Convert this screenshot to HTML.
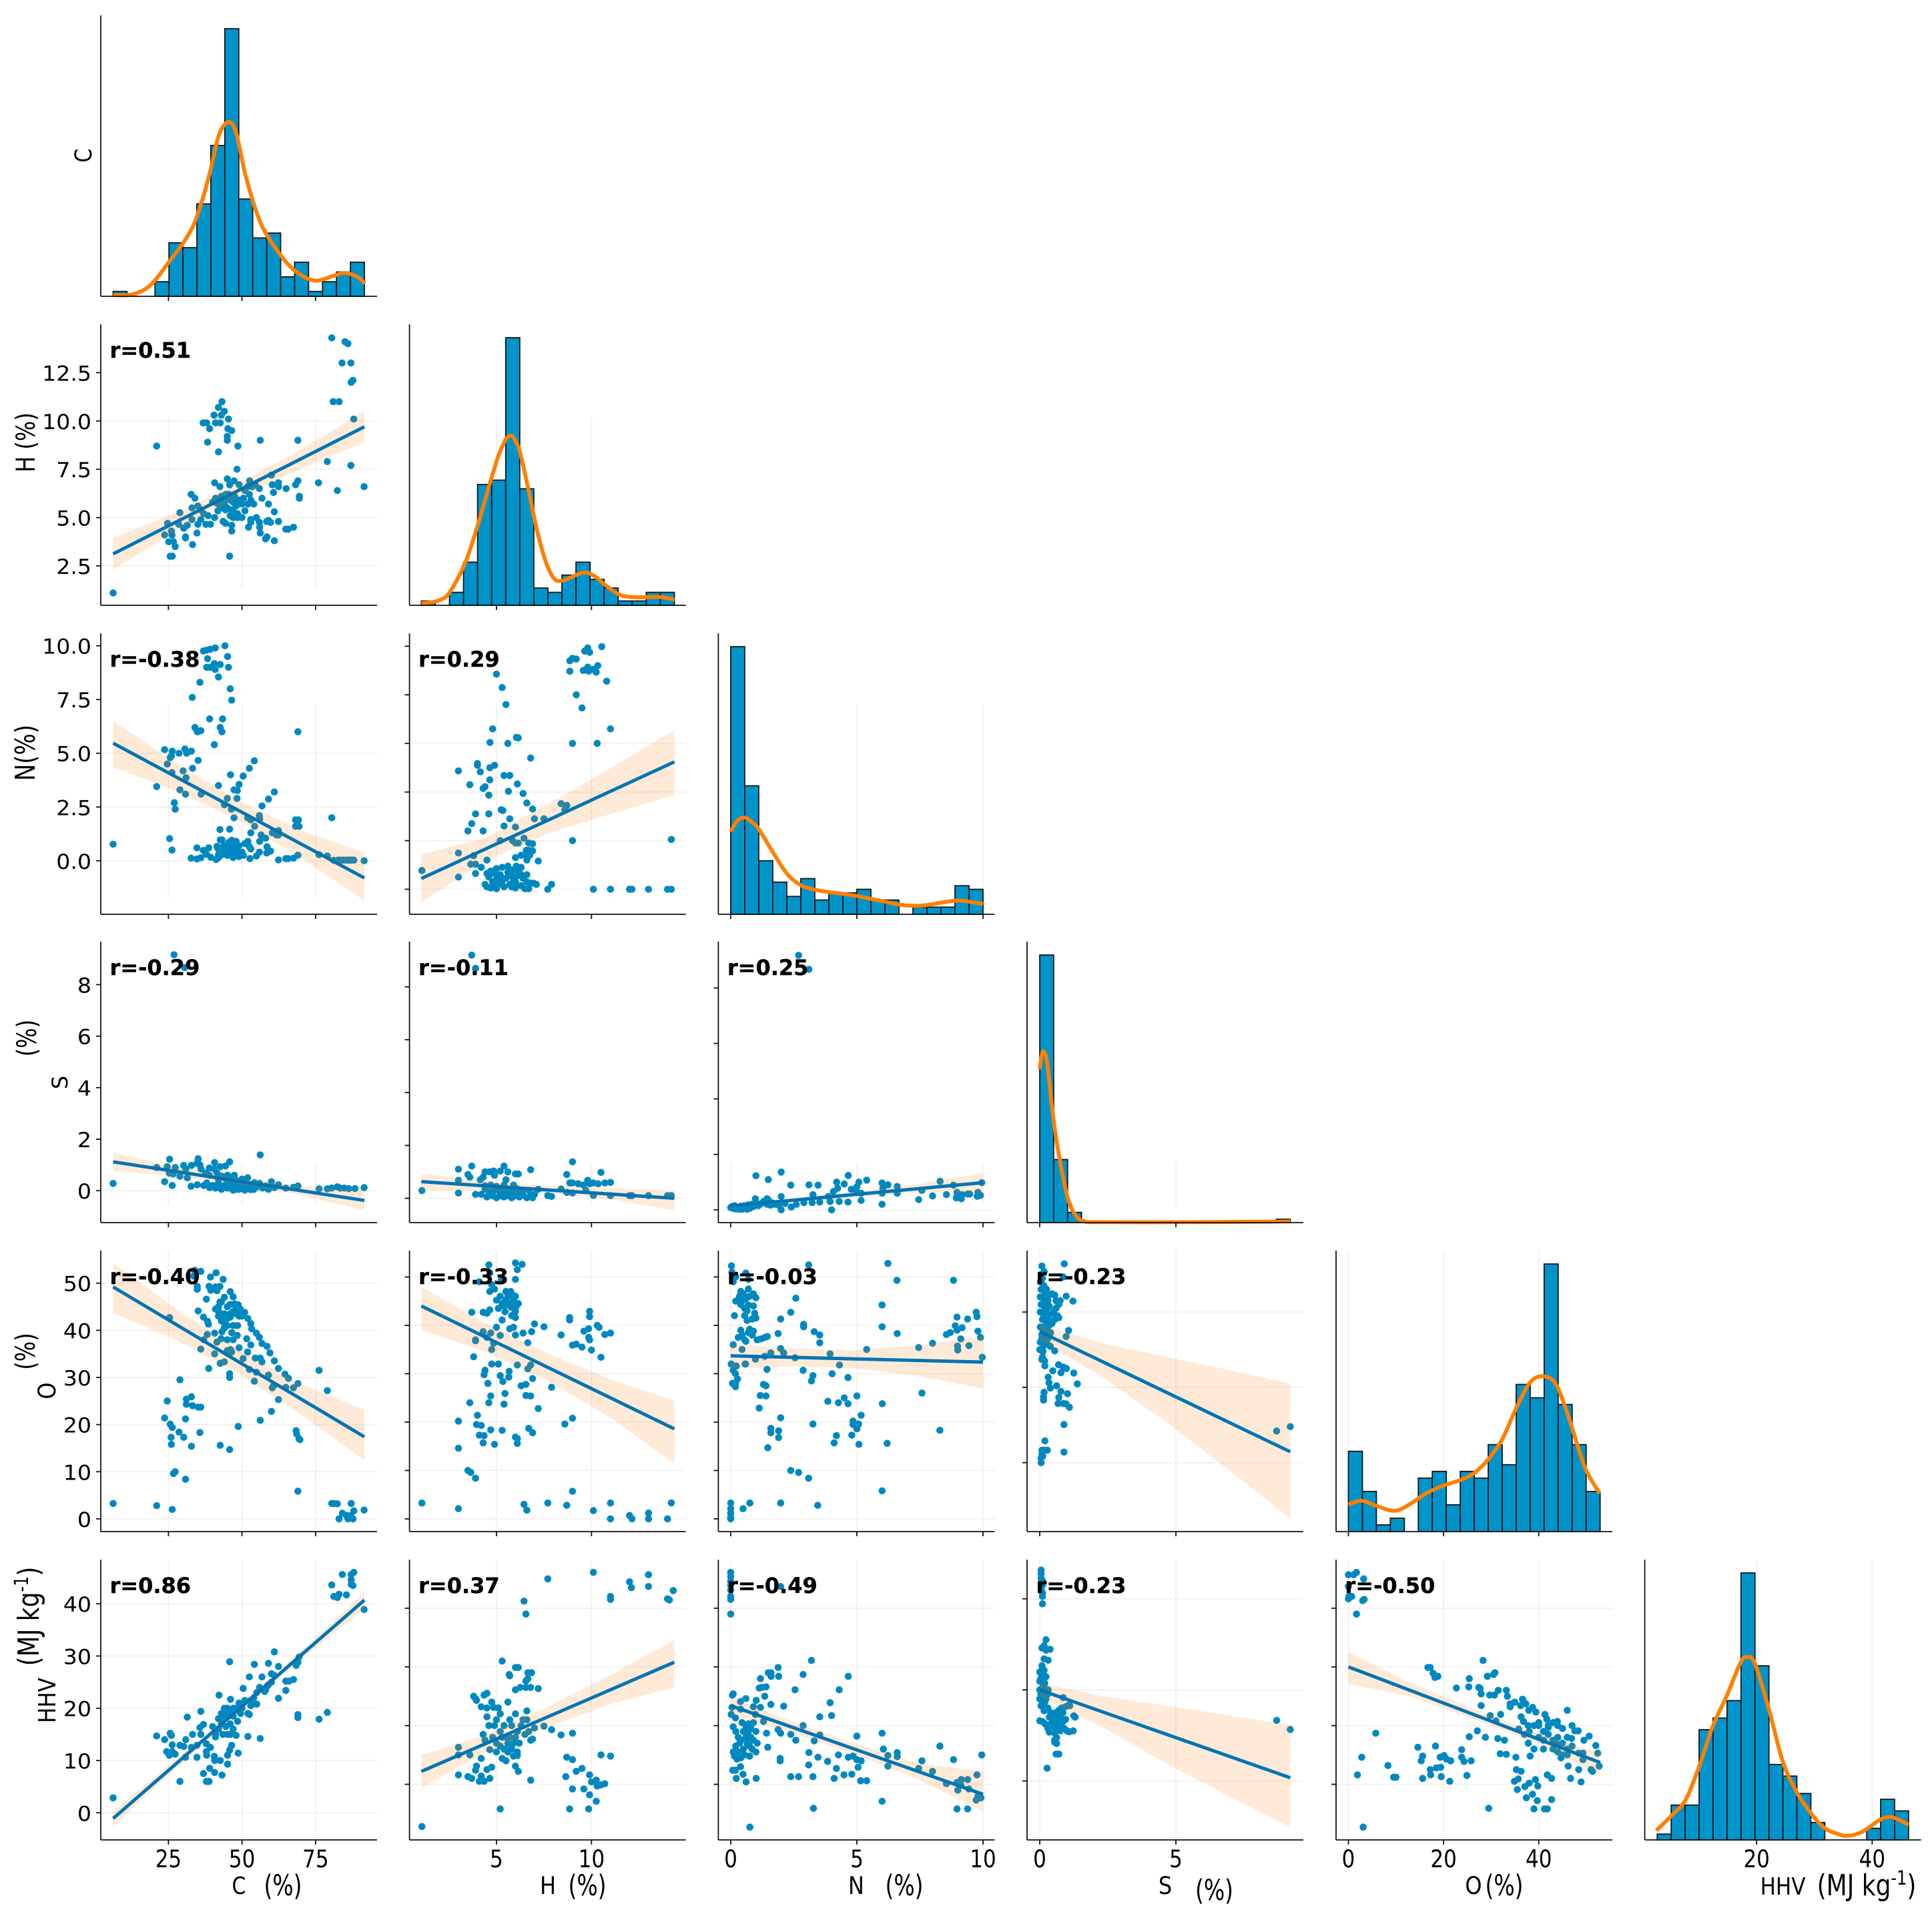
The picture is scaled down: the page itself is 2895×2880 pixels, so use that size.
<!DOCTYPE html>
<html><head><meta charset="utf-8"><title>Pair plot</title>
<style>html,body{margin:0;padding:0;background:#fff}svg{display:block}text{font-family:"DejaVu Sans","Liberation Sans",sans-serif;fill:#000}</style>
</head><body>
<svg id="chart" xmlns="http://www.w3.org/2000/svg" width="2895" height="2880" viewBox="0 0 2895 2880"></svg>
<script>
// Histogram counts (18 bins each), data range, KDE curves (count units)
const countsC=[1,0,0,3,11,10,19,31,55,20,12,13,4,7,1,3,5,7];
const countsH=[1,0,3,10,28,29,62,27,4,3,7,10,6,4,1,1,3,3];
const countsN=[75,36,15,9,5,10,4,6,6,7,4,4,0,2,2,2,8,7];
const countsS=[157,37,6,0,0,0,0,0,0,0,0,0,0,0,0,0,0,2];
const countsO=[12,6,1,2,0,8,9,4,9,8,13,10,22,20,40,19,13,6];
const countsHHV=[1,6,6,19,21,24,46,30,13,11,8,3,0,0,0,2,7,5];
const rangeC=[6.2,91.6],rangeH=[1.05,14.36],rangeN=[0,10],rangeS=[0,9.2],rangeO=[0,52.9],rangeHHV=[2.8,46.3];
const kdeXC=[6.2,11.5,16,19.9,25.1,29.6,33.5,36.5,39.2,42.2,45.4,48,51.4,56.2,61,65.8,70.5,75.3,80.1,84.8,89.2,91.8];
const kdeYC=[.25,.27,1.1,2.9,7,10.6,14.6,19.8,25.7,33.2,35.8,33.6,24.4,15.25,10.25,6.5,4.2,3.2,4,4.8,4,2.6];
const kdeXH=[1.05,1.36,1.95,2.52,3.36,4.06,4.77,5.22,5.71,6.17,6.63,7.09,7.57,8.03,8.46,8.98,9.62,10.14,10.67,11.41,12.15,13.63,14.36];
const kdeYH=[.5,.6,1.1,2.9,9.9,19.2,30,36,39.3,36.4,27.9,18.2,10.4,6.2,5.7,6.6,7.6,6.8,4.9,2.6,1.9,1.9,1.3];
const kdeXN=[0,.27,.57,.86,1.11,1.67,2.23,2.79,3.34,3.9,4.46,5.02,5.57,6.13,6.69,7.25,7.8,8.36,8.92,9.3,10];
const kdeYN=[23.2,26.3,27.1,25.7,23.9,17.4,11.4,8.1,6.9,6.2,5.7,5.1,4.3,3.5,2.7,2.4,2.6,3.3,3.8,3.7,2.9];
const kdeXS=[0,.08,.16,.28,.47,.7,1.02,1.33,1.64,2.1,5.08,8.2,9.2];
const kdeYS=[90,99,100,93,65,40,15,4,.75,.25,.25,.5,.75];
const kdeXO=[0,2.8,5.7,9.7,12.9,16.3,19.7,23.9,26.5,29.4,32.4,35.3,38.3,41.2,43.8,46.7,49.7,52.8];
const kdeYO=[4.07,4.6,3.9,3.1,4.1,5.7,6.8,7.8,8.8,10.8,13.9,18.5,22.4,23.2,21.8,16.2,9.6,5.7];
const kdeXHHV=[2.64,5.28,7.64,10,12.43,14.86,17.2,18.3,19.65,22.1,24.5,26.9,29.4,31.8,34.2,35.8,38.3,41.4,43.5,46.3];
const kdeYHHV=[1.6,4.2,6.8,12.5,19.6,24.9,30.5,31.5,30.5,22.6,13.6,8.3,4.6,2,1,.7,1.4,3.5,3.9,2.6];

// Scatter values as flat x,y,x,y lists
const ptsCH=[6.2,1.1,21,8.7,80.5,14.3,85,14.1,86,14,84,13,87,13,87.1,12,87.7,12.1,81,11,83,11,88,10.1,69,9,56.2,9,79,7.9,87,7.7,76,6.8,82.4,6.4,91.5,6.6,43.2,11,42,10.7,44,10.5,40.5,10.3,43,10.3,45.4,10.1,36.8,9.9,38,9.9,39,9.6,41,9.9,42.6,9.9,45.2,9.6,46.5,9.5,45,9.2,45,9,38.3,8.9,42,8.4,48.6,8.7,48.3,7.5,60,7.2,45,7,47.3,6.9,40.7,6.8,42.5,6.6,45.8,6.7,49,6.7,52.6,6.9,54.5,6.7,60.3,6.7,62.4,6.8,62.4,6.6,65,6.5,68.2,6.7,69,6.9,60.7,6.3,55.9,6.5,69.5,6.1,69.5,6,56.8,6,59,5.7,61,5.3,54.9,5,59,4.85,62.4,4.8,58.4,4.8,59.7,4.75,53,4.9,53,4.75,55.9,4.75,56,4.5,52.2,4.5,56.2,4.2,58.5,4,58,3.9,61,3.8,64.9,4.4,65.7,4.4,67.5,4.5,45.8,3,32.7,6.2,34,6,28.9,5.25,33,5.5,35,5.6,24.7,4.7,23.7,4.1,26,4.3,26.2,4.1,25.1,3.75,26.7,3.75,27.3,3.5,25.6,3,26.3,3,30.8,4,30.8,3.95,33.2,3.6,34.7,4.2,30.2,4.45,31.4,4.6,28.5,4.65,33,4.9,35,4.65,36,4.9,37,5.2,36,5.4,38.5,5.1,40.7,5,37.7,4.65,39.3,4.65,43.6,4.8,44.4,4.7,46.5,4.6,46.5,4.3,41.8,5.35,44.4,5.4,42,5.9,43,6.1,44,5.7,45,5.5,45.5,6.2,46,5.9,46.5,5.4,47,5.8,47.5,6.1,48,5.6,48.5,5.2,49,5.9,50,5.7,50.5,6,51,6.4,52,5.7,52.5,6.2,53,5.9,54,5.7,44,5.9,44.5,6.2,46,5.1,47,5,48.5,5,50,5,47,5.3,51,5.35,40,5.8,41,6,41.5,5.75,42.5,5.6,43.5,5.5,52,6.6,53.5,6.6];
const ptsCN=[6.2,.77,21,3.45,23.7,5.17,24.6,4.5,25.6,4.8,26,4.87,26.3,5.1,26.2,4.1,27,2.7,27.3,2.4,25.4,1.03,26.2,.5,28.6,5,30.6,5.2,31.2,5,32.8,5.1,30,4.18,28.9,3.3,30.8,3.1,31,3.86,33.2,4.3,35.1,4.67,36.1,3.1,32.7,.12,34.7,.08,36,.14,34.7,.6,36.9,.48,38.7,.6,37.9,.3,39.4,.16,41.2,.06,42,.14,42,.28,43.2,.28,43.6,.38,41.5,.67,41.8,.57,42.6,.97,43.2,.97,42.5,1.45,45.8,1.47,42,3.5,40.6,5.4,43.2,6,42.6,6.2,39,6.6,43.4,6.6,34,6.2,34.8,6,36,6.05,33.1,7.6,35.7,8.3,46.5,7.47,46,8,42,8.55,38,9,39.2,9,40.9,8.9,40.6,9.17,42.6,9.13,45.4,9,38.3,9.4,45.1,9.5,36.9,9.76,38,9.8,39.2,9.84,40.9,9.9,44.2,10,46.1,4,50.4,3.94,52.5,4.3,54.2,4.65,49,3.55,47.3,3.3,48.4,3.27,45,2.9,48.3,2.9,44,2.6,46.4,2.4,47.3,2,51.9,2,53,1.9,55.9,2.1,56,1.96,56.8,2.55,59,2.87,61,3.2,54.3,1.6,53,1.3,56.5,1.2,58,1.05,60.3,1.3,62.4,1.4,61.7,1.2,62.4,1.2,56,.9,58.5,.65,58.4,.36,59.7,.45,55.9,.4,54.9,.22,52.7,.1,62.4,.04,64.9,.1,65.7,.1,67.5,.12,69,.26,68.2,1.6,69.2,1.9,68.2,1.9,69.4,1.6,69,6,76.2,.28,79,.22,80.5,2,81.2,.02,82.7,.03,83.5,.03,84.5,.03,85.5,.03,86,.03,86.5,.03,87,.03,87.5,.03,88,.03,91.5,0,44,.7,45,.5,45.5,.85,46,.6,46.5,.95,47,.45,47.5,.75,48,.9,48,.55,48.5,.35,49,.7,49,.2,47,.15,47.3,.3,45,.25,50,.4,50.5,.25,51,.8,52,.9,52.5,.65,53,.55,44,.5,43.5,.65,46,.35];
const ptsCS=[6.2,.28,23.7,.35,26.3,.2,21,.9,24.6,.93,25.4,1.22,25.3,.68,26.6,.65,27.3,.9,28.9,.56,30.2,.98,31.4,.5,30.9,.84,32.8,.98,35.1,1.24,35.7,1,36.1,.84,34.7,1.06,32.7,.17,34.8,.23,40.7,1.09,40.6,.84,42.6,.93,44.4,.96,45.8,1.12,56.2,1.39,38.9,.88,37.6,.68,38.9,.6,41.5,.68,43.2,.56,45.1,.6,47.4,.6,51.9,.5,26.9,9.16,30.5,8.66,48.7,.35,54.2,.31,60,.35,62.4,.23,69,.18,64.9,.1,67.5,.13,76.2,.07,79,.07,80.5,.1,82.4,.15,83.4,.1,84.8,.1,86.3,.08,88.4,.08,91.5,.12,40,.2,41,.1,42,.3,43,.05,44,.2,45,.35,46,.1,47,.25,48,.05,49,.2,50,.1,51,.3,52,.12,53,.2,54,.05,55,.15,56,.28,57,.1,58,.18,59,.05,60,.15,61,.12,39,.12,37,.2,38,.3,42,.45,44,.5,46,.42,48,.4,50,.45,43,.15,45,.1,47,.02,49,.05,51,.02,53,.04];
const ptsCO=[6.2,3.26,21,2.8,26.3,2,69,5.87,80.5,3.26,81.2,3.26,82.4,3.2,87.1,3.26,84.1,1.2,83,0,85.5,.74,86,0,87,.7,87.7,0,88,1.7,91.5,1.86,26.7,9.6,27.3,10,30.8,8.4,26,15.8,32.8,15.4,42.6,15.6,45.8,14.7,25.9,17.3,30.2,17.3,28.6,18.4,35.7,18.3,25.6,20.1,26.3,19.4,23.7,21.4,30.8,21.2,24.6,25,31.1,25.4,32.8,25.9,31.1,24.3,33.2,24,35.1,23.7,36,23.7,28.9,29.5,48.7,19.6,56.2,20.9,60,22.8,62.4,25.3,68.4,18.7,68.6,18,69.4,17,69.7,16.8,69,28.7,76.2,31.5,79,27.2,67.5,27.8,64.9,27.9,65.8,29.8,64.6,30.7,62.4,31.9,61,33.5,59,30.5,60.3,27.8,60.7,28.2,54.9,31.1,54.2,29.2,52.5,31.7,50.4,34,45.8,30,45.8,30.8,44,33.3,42.6,33,38.7,31.9,40.7,35,36,36,37,38,38.2,39.1,25.4,42.7,35.1,44.1,36.9,42.8,38.3,41.9,38.6,41.3,37.9,46.6,34.8,48.7,34.8,49.3,34,52.7,36,52.5,33.5,51.5,39.3,51.3,41.2,52.2,43.6,50.8,38.8,49.3,39.4,48.5,41,49.2,42.5,49.3,41.5,48.4,46,48.2,47,47.1,47.5,45.6,48.7,45.4,49.4,44.5,50.9,43.8,52,42.5,53,41.4,53.3,40.3,54.9,39.4,55.9,38.5,56.8,37.2,58.5,36.6,59.5,35.2,53,36.9,51.6,38.2,51.9,35.4,54.5,34.1,56.2,34.1,56.8,33.3,48.4,38.9,49,36.3,47,38,45,38,42.9,38.2,40.7,39.4,43.2,39.7,41.5,37.5,46.1,35.9,46.5,35.4,45,35.7,42,45,42,44,43,46,44,47,45,45,46,45.5,47,44,48,43.5,49,43,43,43,44,43.5,45,42.5,46,42.8,47,41,45,41,43,42,44,41.5,42,43,41,44.5,42.5,46,49,44,50,43,46,43.5,48,45,44,40.5,46.5,39.5,48.5,41];
const ptsCHHV=[6.2,2.85,21,14.7,23.7,14,25.6,15.2,26,14.8,24.4,11.7,25.3,11,26.3,11.7,26.3,13,27.3,11.2,28.9,12.9,30.2,12.7,28.9,6,31.4,18.3,30.9,14,30.8,10.6,32.8,12.5,33.2,15,34.7,12.9,34.7,10.6,36,19.4,35.7,16.3,36,15,36.9,16.9,37.9,13.2,37.9,11.7,38,11,36.9,7.5,39,8.5,37.9,6,38.8,6,40.7,7.7,43.2,7.2,39.3,12.5,40.6,10.8,40.7,10,42.6,10,45.1,9.3,45.1,11,45.8,12,46.5,12.9,48.7,11.4,45.8,28.9,42.2,22.5,46.1,21.7,52,14.6,56.2,14.2,52.5,26,50.4,23.8,54.2,28.4,56.8,26,59,28.6,61,30.8,62.4,28,60,26.6,60.9,26.3,58.5,24.2,57.7,23.2,62.4,21.9,64.9,23.4,64.9,25.2,66,25.2,67.5,25.5,68.4,28.2,69,28.8,69.4,29.8,69,18.8,69,18.2,76.2,17.9,79,19.2,80.5,43.6,81.2,41.4,82.4,41.2,83,41.8,84.1,45.6,85.5,41.7,87.1,45.6,87.1,44.6,87.1,43.7,88,46,87.7,43.5,91.5,38.9,41,15,42,16,43,17,44,18,45,19,46,17,47,18.5,48,20,49,21,50,20,51,21.5,52,19,53,20.5,54,22,55,23,56,24,44,20,45,15,46,15,47,16,48,14.8,43,19,42,18,41,14.5,40,16.5,46,19.5,47,20,45,20,48.5,17.5,49.5,19,43.5,15,44.5,16.5,58,23.5,59,24.5,60,25,52.5,18.8,53,21.5,55,20.8];
const ptsHN=[1.08,.77,3,1.49,3,.5,3,4.87,3.6,4.3,3.7,2.7,3.9,3.1,3.5,2.4,4.3,2.4,3.8,1.38,3.65,1.03,3.9,1.03,3.9,.65,4.2,.9,4.5,1.2,4.5,.65,4,5.17,4,5.1,4.15,4.83,4.3,4.15,4.4,4.22,4.6,3.87,4.65,5,4.9,5.1,4.65,4.5,4.6,3.1,4.66,6.04,4.8,6.6,5,8.85,5.3,8.3,5.5,7.6,5.6,6,6.05,6.25,6.15,6.23,6.8,5.4,5.4,4.68,5.7,4.68,6.1,4.33,5.63,4.03,6.4,3.94,5.25,3.27,5.34,3.24,5.7,2.9,5.4,2.6,6,2.56,6.6,3.55,6.9,3.3,7,2.9,7.5,2.9,6.45,2.1,5.2,2,5.85,2,6,1.9,6.15,1.9,6.7,1.9,6.9,1.87,6.57,1.6,6.7,1.6,6.9,1.58,6.75,1.4,6.6,1.35,6.3,1.4,6,1.3,6.6,1.2,7.2,1.16,8.4,3.52,8.7,3.45,8.6,3.27,9,2,9,6,10.3,6,11,6.6,9.2,8,9.5,7.46,10.8,8.56,8.86,8.97,8.86,9.4,9,9.5,9.2,9.47,9.64,9.8,9.8,9.93,9.9,9.75,9.57,9,9.8,9.14,9.85,8.97,10.07,9.05,10.25,8.93,10.33,9.2,10.54,9.98,7.7,0,7.9,.2,10.1,0,11,0,12,0,12.13,0,13,0,14,0,14.2,0,14.2,2.05,4.4,.2,4.5,.1,4.7,.05,4.8,.3,4.9,.15,5,.4,5,.02,5.1,.2,5.2,.6,5.3,.9,5.4,.1,5.5,.45,5.6,.7,5.7,.2,5.8,.55,5.9,.8,6,.3,6,.05,6.1,.55,6.2,.7,6.3,.15,6.4,.45,6.5,.02,6.6,.3,6.7,.02,6.8,.25,6.95,.25,7.1,.2,5.6,.95,4.7,.75,4.9,.65,5,.85,6.05,.95,6.3,.9,5.8,.1,5.3,.35,4.6,.5,5.9,.4,6.3,.6,6.6,.6];
const ptsHS=[1.08,.29,3,1.1,3,.68,3,.2,3.7,1.22,3.5,.9,3.6,.8,3.9,.15,3.7,9.2,3.9,8.7,4.15,.7,4.3,.8,4.4,.47,4.4,1,4.65,1,4.85,1.03,4.9,.87,5.4,1.22,5.2,1.03,5.5,.7,5.6,1,6,.92,6.15,.92,6.8,1.08,8.7,.9,9,1.38,8.86,.58,9,.58,9.3,.55,9.57,.5,9.8,.68,9.9,.55,10.1,.58,10.35,.55,10.5,.98,10.7,.58,11,.6,10.1,.11,11,.1,8.7,.22,9,.2,9.7,.3,8.4,.35,7.7,.1,7.9,.07,7.2,.34,12,.1,12.13,.1,13,.1,14,.1,14.2,.1,4.2,.15,4.5,.05,4.8,.1,5,.02,5.2,.15,5.4,.05,5.6,.1,5.8,.02,6,.1,6.2,.05,6.4,.12,6.6,.02,6.8,.1,7,.15,4.6,.25,4.9,.3,5.2,.35,5.5,.25,5.8,.3,6.1,.35,6.4,.3,6.7,.3,5,.45,5.4,.5,5.9,.5,4.7,.5,6.3,.18,5.7,.18,5.3,.08,4.4,.35,6.9,.02];
const ptsHO=[1.08,3.27,3,2.1,3,20.2,3,14.6,3.5,10,3.65,9.6,3.9,8.4,6.45,3,6.6,1.8,7.7,3.27,8.7,2.8,9,5.7,10.1,1.7,11,3.27,11,0,12,.7,12.13,0,13,1.2,13,0,14,0,14.2,3.3,4,21.4,3.95,19.5,4.2,19.3,4.1,17.3,4.35,17.2,4.3,15.7,4.7,18.4,4.9,15.4,5.3,18.3,6,16.9,6.1,15.6,6.1,16.6,6.7,18.7,6.9,17.8,8.6,19.6,9,20.8,3.6,24,4.6,24,4.7,25.4,5.4,23.7,5.45,25.9,6.55,25.5,6.8,25.4,7.2,22.8,7.9,27.2,6.3,27.5,6.55,27.8,6.9,29,4.55,28,4.35,29.8,4.4,30.7,3.8,33.5,4.75,32,5.1,32,5.2,29.6,5.34,28.4,5.65,29.3,5.67,30.5,6.1,31.8,6.65,31,6.8,31.8,3.9,36.8,3.9,37,4.5,37.5,4.85,36.3,4.75,35,3.7,42.7,4.3,42.7,4.5,42.5,4.3,38.7,4.7,38.4,5.2,37.9,5.7,39.3,6,38,6.4,38.4,6.65,36.4,6.85,38.7,7,40.3,7.5,39.7,8.4,38,8.85,41.6,8.85,41.1,9,35.9,9.2,36.1,9.5,35.5,9.6,38.8,9.85,37.5,9.9,42.9,9.9,41.8,10,34.9,10.3,40,10.4,39.6,10.5,33.4,10.7,38.1,11,38.4,9.85,39.3,9.9,37,4.1,49,4.6,52.5,4.65,50.8,4.75,48.4,4.9,47.5,4.65,47,5.25,49.3,5,45.2,6,52.9,6.35,52.6,6.1,51.5,6,49.5,5.75,47,5.5,45.2,5.9,45.2,6.15,44.5,4.65,43.2,5.75,43.8,6,42.9,6,41.6,5.3,41.1,5,39.6,5.9,39.6,5.2,46,5.4,44,5.5,47,5.6,46,5.7,44.5,5.8,46.5,5.9,43.5,6,46,5.3,44.5,6.05,44,5.45,42.8,5.1,43.5,5.8,42];
const ptsHHHV=[1.08,2.8,3,16.3,3,15,3.6,15,3,11.6,3.5,11.3,3.7,11,3.8,25,3.9,24.6,3.95,24.3,4.35,25.2,4.5,25.5,4.2,23.2,4.5,21.5,4.3,18.5,4.5,23,4.75,24,4.85,23.1,5.3,31,5.7,28.5,5.67,28.7,6,29.9,6.15,29.9,6.65,29,6.85,29,6.65,28,6.55,27.6,6,26.1,6.25,26.5,6.55,26.5,6.8,26.5,7.2,26.3,6.55,39,6.45,41.2,7.7,45,10.1,46.1,11,42,11,41.5,12,44.5,12.1,43.5,13,45.7,13,43.7,14,41.6,14.1,41.4,14.3,43,5.2,5.8,8.85,5.8,9.85,5.8,10.25,7.1,9,9.2,9.6,9.2,9.9,8.2,10.3,9.7,10,10.4,10.5,15,11,14.8,8.7,14.6,9,14.2,8.65,11.3,9.2,12.2,9.5,12.7,9.9,11.6,10.25,10.7,10.7,10.1,10.5,9.9,6.8,10.7,6.15,12.2,6,13.1,9,18.7,8.4,18.4,7.9,19.3,7.5,19.9,6.9,17.7,7,19.6,3.95,13.1,4.2,14.4,3.9,12.4,4.2,11.4,4.35,10.5,4.1,10.5,4.65,11,4.75,12.9,4.5,12.5,4.65,15.9,5,15.5,5.3,14.4,5.5,14,5.9,14.8,6.1,14.9,4.9,20,5,21,5.2,19,5.4,20,5.5,18,5.6,17,5.8,16,6,18,6.1,19,6.3,20,5,17,5.2,16.5,5.4,16,5.6,15.5,5.8,20,6,22,6.4,21,6.5,18.5,6.6,22.5,6.7,19,6.8,17.5,5.7,18,5.9,17,5.2,22,5.6,24,4.6,20,4.8,18,5.1,23,5.5,16,5.3,18,6.2,17,4.4,17.5,5.7,21,6.6,21,6.1,15.5];
const ptsNS=[2.69,9.18,3.1,8.67,1,1.23,1.49,1.09,2,1.36,2.38,.89,3.1,.9,3.46,.89,4.2,1,4.5,.93,4.66,1.24,5.08,1,5.39,1.07,5,.83,4.78,.74,4.24,.78,4.07,.66,3.87,.48,3.94,.3,4.3,.3,4.65,.28,4,0,3.26,.55,3.23,.26,3.53,.28,2.9,.26,2.6,.2,2.4,.1,2,.48,2,0,1.9,.17,2.15,.23,1.44,.4,1.57,.17,.98,.4,5.17,.6,5.17,.34,6,.2,6,.97,6.23,.9,6.03,.78,6,.6,6.6,.84,6.6,.6,7.45,.37,7.58,.7,8,.5,8.3,1.03,8.55,.55,8.83,.89,8.97,.63,8.94,.43,9.14,.4,9.17,.55,9.39,.57,9.47,.57,9.77,.49,9.8,.63,9.9,.52,9.95,.98,5,.63,0,.08,.05,.12,.1,.05,.15,.15,.2,.03,.3,.1,.35,.02,.4,.13,.5,.05,.6,.1,.7,.18,.75,.05,.85,.2,.9,.12,1,.25,1.1,.15,1.2,.22,1.3,.3,1.45,.2,1.5,.35,.55,.15,.25,.08,.45,.02,.65,.02,.8,.1,1.65,.25,1.75,.2];
const ptsNO=[0,3.27,0,2.1,0,1.2,0,.3,0,0,.49,2.1,.76,3.27,1.98,3.27,3.45,2.8,6,5.8,2.38,10,2.69,9.6,3.09,8.4,1.47,14.7,4.1,15.7,5.08,15.4,6.2,15.6,1.59,18.7,1.59,17.8,1.9,18.2,1.9,16.8,3.26,19.6,1.98,20.9,1.13,22.9,1.17,25.5,1.4,25.4,1.4,27.5,1.3,27.8,1.44,30.9,.19,28,.19,27.3,.07,28,.1,30.7,.19,30,.27,28.9,.02,32,.22,31.6,.57,32,.98,33,1.35,33.6,1.59,34.3,2.1,34.3,1.98,35.2,2.55,33.3,2.87,30.7,3.26,29.6,3.2,28.5,4.02,30,4.65,29.2,4.31,31.8,3.94,34.1,5.39,35,3.85,24.3,4.27,24,4.5,25,4.65,23.8,5,25.4,5.17,21.4,4.85,20.2,4.85,19.5,5.07,19.6,5,18.6,4.8,17.3,4.19,17.2,6.01,23.8,7.58,26,8.29,18.3,7.45,35.4,8,36.3,8.55,38.1,8.7,38.5,8.83,49.3,6.59,49.3,6.23,52.8,3.09,52.5,6,44.2,6,39.7,6.6,38.3,2.58,45.6,2.38,42.7,1.98,41.3,1.88,38.3,2.89,40.2,2.89,39.7,3.31,38.7,3.53,38,3.53,36.4,8.97,41.7,8.9,39.9,8.97,39,9.17,39.5,9.39,41.3,9.73,42.7,9.76,41.8,9.8,38.8,9.12,37.2,9.9,37.5,8.99,35.7,9,34.9,9.44,35.8,9.97,33.4,.59,32,.03,52.3,.05,51,.1,50.5,.2,50,.6,50.8,.7,49.5,.1,49,.4,47,.5,46.5,.7,47.5,.9,46.5,.2,45,.35,46,.45,45,.6,45.5,.75,46,1,45.7,.55,43.5,.7,44.2,.9,44,.15,42,.55,42,.65,41,.85,41.3,.95,42.5,1,41.5,.4,39,.45,38,.7,38.5,.85,38,.9,38.8,.3,37.5,.55,37,.6,36.7,.1,36,.45,35,1.05,37,1.2,37.2,1.35,37.5,1.45,37.7,.75,39.2,.65,43,.4,44.3];
const ptsNHHV=[0,46.1,0,45.4,0,44.6,0,43.9,0,43.1,0,42,0,41.5,0,39,1.98,43.7,.76,2.7,3.28,5.9,6,7.1,8.97,5.8,9.39,5.8,3.2,31.1,1.88,29.9,1.9,28.4,1.49,29,1.6,29,1.6,28.4,1.18,28,2.87,28.7,4.66,28.4,1.13,26.4,1.23,26.5,1.4,26.6,1.35,25,2.55,26.1,4.3,26.1,.07,25.2,.1,25.4,.6,24.6,.39,24.1,1.01,24.3,.9,23.2,1.18,23.1,1.59,23.6,2.1,23.3,3.94,23.9,4,21.7,3.53,21.5,.02,21.9,.19,21.3,.05,23.1,.39,22.8,1.3,20.7,.98,21.9,2.87,20,1.42,18.7,1.88,19.3,1.98,18.7,2.38,18.5,3.53,18.4,5,18.2,6,18.7,8.29,16.5,2.58,17.5,3.31,17.4,1.47,16.3,6.05,16,6.23,14.9,6.6,15.4,8.83,14.2,9.95,15,6.6,14.7,1.96,14.4,1.96,14,3.46,14.6,3.1,15.4,4.27,15,3.84,13.9,4.66,14.6,4.85,14.8,5,14.2,5.17,14,7.58,14,6.23,13.1,3.09,13.3,7.45,12.7,8,12.2,5.05,12.9,4.19,12.7,4.8,11.7,4.49,11.6,4.1,11,3.26,11.3,2.38,11.3,2.69,11.3,1.01,11,.22,11,.61,10.4,.49,11.7,.08,12.4,.19,12.4,.39,13,5.15,10.6,5.39,10.6,9.14,10.8,9.76,11.6,9.39,10.8,8.55,10.1,8.97,10.3,9,9,9.44,9.2,9.73,7.3,9.8,8,9.92,7.7,9.12,9.9,.1,19.8,.2,19,.3,18,.4,17.5,.5,19,.6,20,.7,19,.8,18,.9,17.5,1,19,1.05,17,.2,16.5,.3,15.5,.5,16,.65,17,.75,16.5,.85,16,.1,15.5,.4,14.5,.55,15,.75,14.8,1,15.5,.15,14.8,.25,14.3,.6,18,.45,20.5,.7,20.3,.9,20.5,.35,17,.8,19.5];
const ptsSO=[8.7,8.4,9.2,9.56,.9,52.8,.08,52.2,.16,50.7,.86,49.3,.97,44.2,1.22,42.9,1.06,35.1,.97,33.5,1.25,23.8,1.38,20.9,.69,26,.86,25.4,.98,25,.78,23.9,.48,24.4,.31,22.7,.39,19.8,.34,21.2,.62,20.4,.78,18.9,1.02,18.3,.7,17.3,.67,15.7,.86,15.7,.97,15.6,1.09,14.7,.89,10.1,.19,5.8,.08,3.3,.16,3.3,.28,3.3,.89,2.8,.05,1.2,.05,0,.08,2.3,.11,1.75,.16,18.7,.14,17.5,.14,16.6,.19,25.7,.55,29.7,0,30,.08,27.4,.28,31.5,.39,30.9,.02,48,.05,46,.1,49,.15,47,.2,45,.25,46,.02,44,.1,44,.05,42,.15,42.5,.2,41,.3,43,.35,44.5,.45,44.8,.55,44.5,.6,43,.7,42,.75,43,.6,41,.5,40,.35,41.5,.4,39.5,.3,38,.1,38,.02,40,.15,39,.25,37,.05,36,.08,34,.02,32,.12,35,.2,34,.28,35.5,.35,36.5,.45,37,.55,38,.65,39,.4,34.5,.05,30,.15,31,.1,28,.2,32.5,.3,33,.12,29.5,.18,27,.08,33,.02,36,.25,40,.05,48,.1,46,.05,50,.17,40,.22,43,.7,38.5];
const ptsSHHV=[.05,46.3,.05,45.5,.05,44.5,.1,44,.1,43,.05,42,.1,41.3,.1,40.5,.1,41.2,.1,38.9,.27,2.8,8.7,13.3,9.2,11.3,.23,31,.16,29.7,.08,29.2,.38,28.9,.23,28.7,.16,26.8,.31,26.5,.08,25.3,0,23.9,.16,24.3,.08,22.9,0,21.9,.23,22.9,.16,21,0,20,.31,20,.08,18.6,.23,18,0,18,.16,16.6,.16,15.4,0,13.2,.11,13,.86,18.3,.3,16,.35,14,.4,12.5,.5,13,.6,15,.65,14,.7,15.5,.8,16,.85,15,.95,16.3,1.05,16.6,1.1,16.5,1.25,14.3,1.3,14,1.23,11,1.08,10.8,1,11,.9,11.5,.85,13,.8,12,.75,11,.7,12.5,.6,11.5,.55,10.5,.62,9.5,.55,9,.62,8.2,.6,5.9,.7,5.9,.45,12,.35,10.7,.3,11.5,.2,12.5,.5,14.5,.4,15,.95,13.5,.75,14,.65,12.6,.55,8.5,.02,24,.1,23,.18,21.5,.22,20,.04,22.5,.1,20.5,.14,19,.04,19,.2,17.5,.28,19,.05,16.5,.12,17.5,.08,20,.05,17.8,.15,18.5];
const ptsOHHV=[0,45.7,1.1,45.7,1.7,46.1,3.2,45,0,43.7,.1,42,.7,42,0,41.6,3,41.3,3.3,41.5,1.7,39,5.75,18.7,2.8,14.6,1.9,11.6,8.3,13.2,9.5,11.2,10,11.2,3.1,2.7,29.5,5.9,14.6,16.3,15.6,14.8,15.3,14,15.6,11,16.7,29.9,17.2,29.9,17.8,28.9,18.2,28.2,18.8,28.4,17.2,12.5,17.3,11.6,18.5,12.8,18.3,16.5,19.3,14.6,20.1,14.9,19.4,12.9,19.5,11.3,20.6,14.3,21.5,14,21.3,10.5,23.8,15.9,23.8,14.6,24.3,13.9,24.9,11.5,25.8,14,22.7,26.4,25.4,28,25.3,26.6,25.4,18.1,27.1,19.1,28.8,18,27.4,26.5,27.9,25.4,27.7,26.3,28.3,31.1,29.2,28.4,30.5,28.7,30.8,29,29.7,25.2,30.7,25.2,31.5,26,33.2,26,33.4,25,27.9,23.4,29.8,21.7,31,20.8,32,21.9,31.4,17.8,32.8,17.5,31.9,15.2,33.2,15.1,34,23.7,34,23.2,35,24,36.6,24.5,36.7,24.3,36.2,23.4,37.3,23.7,37.9,22.6,38.7,23.1,39.4,22.3,36.3,21.5,36.8,20.7,35.8,19.4,37.8,20,37.8,17,35.2,14.6,38.2,14.8,35.3,12.5,36.3,12.2,34.9,10.5,35.7,10.9,39.3,10.8,38,10.2,37.1,9.6,35.5,9.1,39.8,9.7,41.8,11.6,42.7,11,38.7,8.3,37.4,7.7,39.7,7.2,42.7,7.4,39,5.8,41.2,5.8,41.8,5.8,46,22.6,41.3,21.9,41.7,21.1,43.9,20.7,47,20,47.6,19.1,48.3,19.1,50.6,18.2,49.5,17.5,52,16.6,52.4,15.3,46.9,17.8,48.4,15.3,49.3,15.3,49.3,14.2,46.2,13.1,46.7,11,48.4,12.5,48.9,10.4,51,12.5,51.3,12.2,52.7,13.1,38,19,39,20,40,20.5,41,19,42,20,43,20.5,44,20,45,19.5,40,18,41,17.5,42,18.5,43,17.5,44,18,45,17,46,18,39,16,41,16,43,16,44,15.5,45,15,46,16,47,16.5,42,19.7,37,18.5,44.7,14.5,46,15,44,16.8,40,20];

// Regression fit ends and confidence band at 0,25,50,75,100% of the x range
const fitCH=[3.12,9.7],hiCH=[3.95,5.25,6.75,8.55,10.5],loCH=[2.3,4.3,6.05,7.55,8.87];
const fitCN=[5.47,-.8],hiCN=[6.5,4.55,2.8,1.4,.37],loCN=[4.35,3.25,1.9,.12,-1.86];
const fitCS=[1.12,-.38],hiCS=[1.47,.92,.49,.17,.02],loCS=[.76,.57,.25,-.18,-.76];
const fitCO=[49.2,17.4],hiCO=[54.2,44.6,35.8,28.6,23.1],loCO=[43.6,38,30.8,22,12.4];
const fitCHHV=[-1.1,40.7],hiCHHV=[.3,10.15,20.35,31.05,42.2],loCHHV=[-2.6,8.55,19.25,29.45,39];
const fitHN=[.44,5.24],hiHN=[1.44,2.1,3.5,5,6.55],loHN=[-.53,1.15,2.3,3.1,3.87];
const fitHS=[.63,0],hiHS=[.92,.65,.45,.38,.3],loHS=[.26,.3,.22,-.05,-.45];
const fitHO=[44,18.6],hiHO=[48,40.5,34.2,28.8,24.4],loHO=[39,34.6,28.5,20.8,11.4];
const fitHHHV=[12.2,30.8],hiHHHV=[15,18.35,23.2,28.7,34.6],loHHHV=[9.4,15.35,19.8,23.7,26.5];
const fitNS=[.14,.98],hiNS=[.21,.42,.66,.95,1.33],loNS=[.07,.27,.46,.63,.6];
const fitNO=[33.7,32.4],hiNO=[36.1,35.2,34.9,35.9,37.7],loNO=[31.1,31.5,31.1,29.5,26.9];
const fitNHHV=[23.4,8.3],hiNHHV=[24.8,20.6,16.8,13.5,12.2],loNHHV=[21.9,18.6,15,10.7,5.4];
const fitSO=[34.8,2.9],hiSO=[36.7,31.7,28.2,24.7,21],loSO=[32.6,22.7,11,-1.7,-14.9];
const fitSHHV=[20,.7],hiSHHV=[21.5,18.6,16.6,14.4,12.3],loSHHV=[18.5,11.8,4,-3.2,-10.1];
const fitOHHV=[30,13.7],hiOHHV=[32.5,27.2,22.8,18.7,15.3],loOHHV=[27.1,24.9,21,17,11.6];

// Tick values and labels
const xTicksC=[25,50,75],xTicksH=[5,10],xTicksN=[0,5,10],xTicksS=[0,5],xTicksO=[0,20,40],xTicksHHV=[20,40];
const yTicksH=[2.5,5,7.5,10,12.5],yTicksN=[0,2.5,5,7.5,10],yTicksS=[0,2,4,6,8],yTicksO=[0,10,20,30,40,50],yTicksHHV=[0,10,20,30,40];
const yTicksN1=[0,2,4,6,8,10],yTicksO3=[0,20,40],yTicksHHV1=[10,20,30,40],yTicksHHV3=[0,20,40];

const SVG='http://www.w3.org/2000/svg';
const svg=document.getElementById('chart');
const colLeft=[151,613.6,1076.4,1539,2002,2464.6],panelW=414;
const rowTop=[23,486,949,1411,1874,2337],rowBottom=[444,907,1370,1832,2295,2757];
const gridTop=[1e9,625,1055,1743,1874,2337];
const xlims=[[2,95.9],[.425,14.96],[-.49,10.46],[-.466,9.68],[-2.6,55.47],[.645,48.46]];
const xticks=[xTicksC,xTicksH,xTicksN,xTicksS,xTicksO,xTicksHHV];
const ranges=[rangeC,rangeH,rangeN,rangeS,rangeO,rangeHHV];
const vars=['c','h','n','s','o','hhv'];

function mk(parent,tag,attrs,txt){
  const e=document.createElementNS(SVG,tag);
  for(const k in attrs)e.setAttribute(k,attrs[k]);
  if(txt!==undefined)e.textContent=txt;
  parent.appendChild(e);
  return e;
}
function xScale(c){const l=xlims[c];return v=>colLeft[c]+(v-l[0])/(l[1]-l[0])*panelW;}
function yScale(r,lim){return v=>rowBottom[r]-(v-lim[0])/(lim[1]-lim[0])*(rowBottom[r]-rowTop[r]);}

function drawFrame(g,r,c,yTicks,y){
  const x=xScale(c),L=colLeft[c],R=L+panelW,T=rowTop[r],B=rowBottom[r],gt=gridTop[r];
  const grid=mk(g,'g',{stroke:'#efefef','stroke-width':1.6});
  
  
  if(r>0)xticks[c].forEach(t=>mk(grid,'line',{x1:x(t),x2:x(t),y1:Math.max(gt,T),y2:r<4?B-26:B}));
  yTicks.forEach(t=>{const py=y(t);if(py>=gt-6&&py<=B)mk(grid,'line',{x1:L,x2:R,y1:py,y2:py});});
}
function drawAxes(g,r,c,yTicks,y,labelY){
  const x=xScale(c),L=colLeft[c],R=L+panelW,T=rowTop[r],B=rowBottom[r];
  const ax=mk(g,'g',{stroke:'#111','stroke-width':1.8,fill:'none'});
  
  
  mk(ax,'line',{x1:L,x2:L,y1:T,y2:B});
  mk(ax,'line',{x1:L,x2:R,y1:B,y2:B});
  xticks[c].forEach(t=>mk(ax,'line',{x1:x(t),x2:x(t),y1:B,y2:B+7}));
  yTicks.forEach(t=>mk(ax,'line',{x1:L-7,x2:L,y1:y(t),y2:y(t)}));
  if(labelY)yTicks.forEach(t=>{
    const lab=mk(g,'text',{transform:'translate('+(L-14)+' '+(y(t)+12)+') scale(1.07 1)','text-anchor':'end','font-size':31},labelY(t));
    
    
  });
  if(r===5)xticks[c].forEach(t=>{
    const lab=mk(g,'text',{transform:'translate('+x(t)+' 2798) scale(1 1.17)','text-anchor':'middle','font-size':31},String(t));
    
    
  });
}
function smoothPath(px,py){
  let d='M'+px[0].toFixed(1)+' '+py[0].toFixed(1);
  for(let i=0;i<px.length-1;i++){
    const x0=px[Math.max(i-1,0)],y0=py[Math.max(i-1,0)],x1=px[i],y1=py[i],x2=px[i+1],y2=py[i+1],x3=px[Math.min(i+2,px.length-1)],y3=py[Math.min(i+2,px.length-1)];
    d+='C'+(x1+(x2-x0)/6).toFixed(1)+' '+(y1+(y2-y0)/6).toFixed(1)+' '+(x2-(x3-x1)/6).toFixed(1)+' '+(y2-(y3-y1)/6).toFixed(1)+' '+x2.toFixed(1)+' '+y2.toFixed(1);
  }
  return d;
}
function drawHist(i,counts,kx,ky){
  const g=mk(svg,'g',{});
  
  
  const maxC=Math.max.apply(null,counts),y=yScale(i,[0,maxC*1.05]),x=xScale(i),rg=ranges[i],w=(rg[1]-rg[0])/counts.length;
  drawFrame(g,i,i,[],y);
  counts.forEach((n,b)=>{
    if(!n)return;
    const rect=mk(g,'rect',{x:x(rg[0]+b*w),y:y(n),width:x(rg[0]+(b+1)*w)-x(rg[0]+b*w),height:y(0)-y(n),fill:'#0094ca',stroke:'#151515','stroke-width':1.8});
    
    
  });
  const kde=mk(g,'path',{d:smoothPath(kx.map(x),ky.map(y)),fill:'none',stroke:'#ff7f00','stroke-width':5.8,'stroke-linejoin':'round'});
  
  
  drawAxes(g,i,i,[],y);
}
function drawScatter(r,c,pts,fit,hi,lo,ylim,yTicks,rText,labelY){
  const g=mk(svg,'g',{});
  
  
  const x=xScale(c),y=yScale(r,ylim),rg=ranges[c];
  drawFrame(g,r,c,yTicks,y);
  for(let k=0;k<pts.length;k+=2){
    const dot=mk(g,'circle',{cx:x(pts[k]),cy:y(pts[k+1]),r:5.3,fill:'#0088c0'});
    
    
  }
  const xs=[0,.25,.5,.75,1].map(t=>x(rg[0]+t*(rg[1]-rg[0])));
  let pd='M';
  hi.forEach((v,k)=>{pd+=xs[k].toFixed(1)+' '+y(v).toFixed(1)+'L';});
  for(let k=lo.length-1;k>=0;k--)pd+=xs[k].toFixed(1)+' '+y(lo[k]).toFixed(1)+(k?'L':'Z');
  const band=mk(g,'path',{d:pd,fill:'#ff7f0e','fill-opacity':.16});
  
  
  const line=mk(g,'line',{x1:xs[0],x2:xs[4],y1:y(fit[0]),y2:y(fit[1]),stroke:'#0074b4','stroke-width':5});
  
  
  drawAxes(g,r,c,yTicks,y,labelY);
  const t=mk(g,'text',{x:colLeft[c]+13.5,y:rowTop[r]+50,'font-size':32,'font-weight':'bold','stroke':'#000','stroke-width':.4},rText);
  
  
}
const f1=v=>v.toFixed(1),f0=v=>String(v);

drawHist(0,countsC,kdeXC,kdeYC);
drawHist(1,countsH,kdeXH,kdeYH);
drawHist(2,countsN,kdeXN,kdeYN);
drawHist(3,countsS,kdeXS,kdeYS);
drawHist(4,countsO,kdeXO,kdeYO);
drawHist(5,countsHHV,kdeXHHV,kdeYHHV);

drawScatter(1,0,ptsCH,fitCH,hiCH,loCH,[.46,15],yTicksH,'r=0.51',f1);
drawScatter(2,0,ptsCN,fitCN,hiCN,loCN,[-2.49,10.58],yTicksN,'r=-0.38',f1);
drawScatter(2,1,ptsHN,fitHN,hiHN,loHN,[-1.03,10.53],yTicksN1,'r=0.29');
drawScatter(3,0,ptsCS,fitCS,hiCS,loCS,[-1.24,9.67],yTicksS,'r=-0.29',f0);
drawScatter(3,1,ptsHS,fitHS,hiHS,loHS,[-.92,9.71],yTicksS,'r=-0.11');
drawScatter(3,2,ptsNS,fitNS,hiNS,loNS,[-.46,9.67],yTicksS,'r=0.25');
drawScatter(4,0,ptsCO,fitCO,hiCO,loCO,[-2.7,56.9],yTicksO,'r=-0.40',f0);
drawScatter(4,1,ptsHO,fitHO,hiHO,loHO,[-2.63,55.44],yTicksO,'r=-0.33');
drawScatter(4,2,ptsNO,fitNO,hiNO,loNO,[-2.63,55.44],yTicksO,'r=-0.03');
drawScatter(4,3,ptsSO,fitSO,hiSO,loSO,[-18.3,56.3],yTicksO3,'r=-0.23');
drawScatter(5,0,ptsCHHV,fitCHHV,hiCHHV,loCHHV,[-5.2,48.45],yTicksHHV,'r=0.86',f0);
drawScatter(5,1,ptsHHHV,fitHHHV,hiHHHV,loHHHV,[.52,48.28],yTicksHHV1,'r=0.37');
drawScatter(5,2,ptsNHHV,fitNHHV,hiNHHV,loNHHV,[.52,48.28],yTicksHHV1,'r=-0.49');
drawScatter(5,3,ptsSHHV,fitSHHV,hiSHHV,loSHHV,[-12.95,48.6],yTicksHHV3,'r=-0.23');
drawScatter(5,4,ptsOHHV,fitOHHV,hiOHHV,loOHHV,[.52,48.28],yTicksHHV1,'r=-0.50');

// Axis titles (stretched along their height, as in the source figure)
function hLabel(txt,cx,by,size,sy){
  const t=mk(svg,'text',{transform:'translate('+cx+' '+by+') scale(1 '+sy+')','text-anchor':'middle','font-size':size},txt);
  
  
  return t;
}
function vLabel(txt,bx,cy,size,sy){
  const t=mk(svg,'text',{transform:'translate('+bx+' '+cy+') rotate(-90) scale(1 '+sy+')','text-anchor':'middle','font-size':size},txt);
  
  
  return t;
}
function unitMJ(t){
  const a=mk(t,'tspan',{},'(MJ kg');
  
  
  const s=mk(t,'tspan',{dy:-13,'font-size':24},'-1');
  
  
  const b=mk(t,'tspan',{dy:13},')');
  
  
}
hLabel('C',358,2838,30,1.19);hLabel('(%)',424,2840,33,1.3);
hLabel('H',821,2838,32,1.15);hLabel('(%)',880,2840,33,1.3);
hLabel('N',1283,2838,32,1.15);hLabel('(%)',1355,2840,33,1.3);
hLabel('S',1746,2838,32,1.15);hLabel('(%)',1819.5,2847,33,1.3);
hLabel('O',2208,2838,32,1.15);hLabel('(%)',2254,2840,33,1.3);
hLabel('HHV',2671.5,2839,31,1.14);
unitMJ(hLabel('',2797,2840,36,1.22));
vLabel('C',137,233,30,1.15);
vLabel('H (%)',52,663,32,1.22);
vLabel('N(%)',52,1128,34,1.2);
vLabel('S',101,1622,32,1);
vLabel('(%)',54,1555.5,32,1.26);
vLabel('O',83,2084,32,1.15);
vLabel('(%)',52,2025,32,1.26);
vLabel('HHV',83,2548,31,1.14);
unitMJ(vLabel('',58,2422,36,1.22));
</script>
</body></html>
